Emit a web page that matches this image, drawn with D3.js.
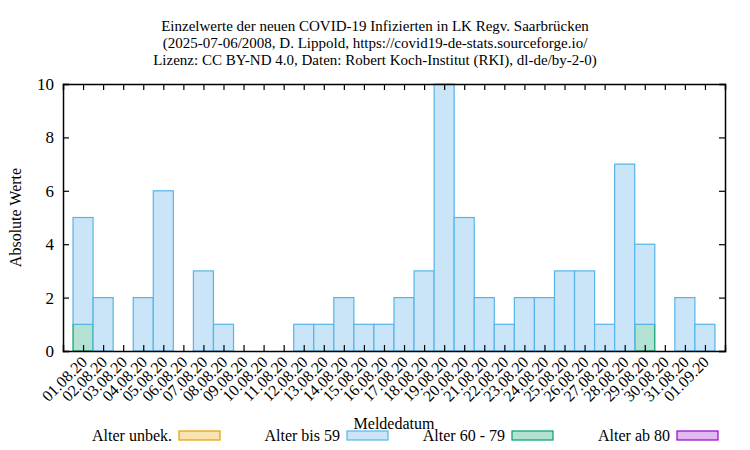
<!DOCTYPE html>
<html>
<head>
<meta charset="utf-8">
<script src="https://cdn.jsdelivr.net/npm/d3@7"></script>
<style>
  body { margin: 0; background: #fff; }
  svg text { font-family: "Liberation Serif", "DejaVu Serif", serif; fill: #000; }
</style>
</head>
<body>
<div class="chart"></div>
<script>
var svgWidth = 750;
var svgHeight = 450;

var margin = { top: 84, right: 25, bottom: 99, left: 63 };
var width = svgWidth - margin.left - margin.right;
var height = svgHeight - margin.top - margin.bottom;

// report dates (x categories)
var dates = ["01.08.20", "02.08.20", "03.08.20", "04.08.20", "05.08.20", "06.08.20", "07.08.20", "08.08.20",
  "09.08.20", "10.08.20", "11.08.20", "12.08.20", "13.08.20", "14.08.20", "15.08.20", "16.08.20",
  "17.08.20", "18.08.20", "19.08.20", "20.08.20", "21.08.20", "22.08.20", "23.08.20", "24.08.20",
  "25.08.20", "26.08.20", "27.08.20", "28.08.20", "29.08.20", "30.08.20", "31.08.20", "01.09.20"];

// counts per age group
var unbek   = [0, 0, 0, 0, 0, 0, 0, 0, 0, 0, 0, 0, 0, 0, 0, 0, 0, 0, 0, 0, 0, 0, 0, 0, 0, 0, 0, 0, 0, 0, 0, 0];
var bis59   = [4, 2, 0, 2, 6, 0, 3, 1, 0, 0, 0, 1, 1, 2, 1, 1, 2, 3, 10, 5, 2, 1, 2, 2, 3, 3, 1, 7, 3, 0, 2, 1];
var age6079 = [1, 0, 0, 0, 0, 0, 0, 0, 0, 0, 0, 0, 0, 0, 0, 0, 0, 0, 0, 0, 0, 0, 0, 0, 0, 0, 0, 0, 1, 0, 0, 0];
var ab80    = [0, 0, 0, 0, 0, 0, 0, 0, 0, 0, 0, 0, 0, 0, 0, 0, 0, 0, 0, 0, 0, 0, 0, 0, 0, 0, 0, 0, 0, 0, 0, 0];

var yTicks = [0, 2, 4, 6, 8, 10];

var titleLines = [
  "Einzelwerte der neuen COVID-19 Infizierten in LK Regv. Saarbrücken",
  "(2025-07-06/2008, D. Lippold, https://covid19-de-stats.sourceforge.io/",
  "Lizenz: CC BY-ND 4.0, Daten: Robert Koch-Institut (RKI), dl-de/by-2-0)"
];

// series in stacking order (bottom first)
var series = [
  { name: "Alter 60 - 79", values: age6079, fill: "#b3e2d2", stroke: "#009e73" },
  { name: "Alter bis 59", values: bis59, fill: "#c9e5f7", stroke: "#56b4e9" },
  { name: "Alter unbek.", values: unbek, fill: "#f9e3b0", stroke: "#e69f00" },
  { name: "Alter ab 80", values: ab80, fill: "#e3b8f2", stroke: "#9400d3" }
];
var legendOrder = ["Alter unbek.", "Alter bis 59", "Alter 60 - 79", "Alter ab 80"];

var svg = d3.select(".chart")
  .append("svg")
  .attr("width", svgWidth)
  .attr("height", svgHeight);

var chart = svg.append("g")
  .attr("transform", "translate(" + margin.left + "," + margin.top + ")");

var xScale = d3.scaleLinear().domain([0, dates.length + 1]).range([0, width]);
var yScale = d3.scaleLinear().domain([0, 10]).range([height, 0]);
var bw = xScale(1) - xScale(0);

// title
svg.append("g").selectAll("text")
  .data(titleLines)
  .enter()
  .append("text")
  .attr("x", 375)
  .attr("y", function(d, i) { return 31 + i * 17; })
  .attr("text-anchor", "middle")
  .style("font-size", "15px")
  .text(function(d) { return d; });

// stacked bars
var base = dates.map(function() { return 0; });
series.forEach(function(s) {
  var rows = dates.map(function(d, i) {
    var r = { i: i, y0: base[i], y1: base[i] + s.values[i] };
    base[i] = r.y1;
    return r;
  }).filter(function(r) { return r.y1 > r.y0; });

  chart.append("g").selectAll("rect")
    .data(rows)
    .enter()
    .append("rect")
    .attr("x", function(r) { return xScale(r.i + 1) - bw / 2; })
    .attr("y", function(r) { return yScale(r.y1); })
    .attr("width", bw)
    .attr("height", function(r) { return yScale(r.y0) - yScale(r.y1); })
    .attr("fill", s.fill)
    .attr("stroke", s.stroke)
    .attr("stroke-width", 1.2);
});

// axes: ticks pointing inward, mirrored on top/right
var xTickVals = dates.map(function(d, i) { return i + 1; });
var tickLen = 6;

var bottomAxis = d3.axisBottom(xScale).tickValues(xTickVals).tickSize(-tickLen).tickFormat("");
var topAxis = d3.axisTop(xScale).tickValues(xTickVals).tickSize(-tickLen).tickFormat("");
var leftAxis = d3.axisLeft(yScale).tickValues(yTicks).tickSize(-tickLen).tickPadding(9);
var rightAxis = d3.axisRight(yScale).tickValues(yTicks).tickSize(-tickLen).tickFormat("");

chart.append("g").attr("transform", "translate(0," + height + ")").call(bottomAxis);
chart.append("g").call(topAxis);
chart.append("g").attr("class", "y-axis").call(leftAxis);
chart.append("g").attr("transform", "translate(" + width + ",0)").call(rightAxis);

chart.selectAll(".domain").attr("stroke", "#000").attr("stroke-width", 1.5);
chart.selectAll(".tick line").attr("stroke", "#000").attr("stroke-width", 1.2);
chart.select(".y-axis").selectAll("text")
  .style("font-size", "17px")
  .style("font-family", "'Liberation Serif', serif");

// rotated date labels
chart.append("g").selectAll("text")
  .data(dates)
  .enter()
  .append("text")
  .attr("transform", function(d, i) {
    return "translate(" + (xScale(i + 1) + 5) + "," + (height + 12) + ") rotate(-45)";
  })
  .attr("text-anchor", "end")
  .style("font-size", "16px")
  .text(function(d) { return d; });

// axis titles
svg.append("text")
  .attr("x", 394)
  .attr("y", 429)
  .attr("text-anchor", "middle")
  .style("font-size", "16px")
  .text("Meldedatum");

svg.append("text")
  .attr("transform", "translate(21," + (margin.top + height / 2) + ") rotate(-90)")
  .attr("text-anchor", "middle")
  .style("font-size", "16px")
  .text("Absolute Werte");

// legend
var legendX = [172, 340, 505, 670];
var legend = svg.append("g").selectAll("g")
  .data(legendOrder)
  .enter()
  .append("g")
  .attr("transform", function(d, i) { return "translate(" + legendX[i] + ",436)"; });

legend.append("text")
  .attr("x", 0)
  .attr("y", 5)
  .attr("text-anchor", "end")
  .style("font-size", "16px")
  .text(function(d) { return d; });

legend.append("rect")
  .attr("x", 7)
  .attr("y", -5)
  .attr("width", 41)
  .attr("height", 9)
  .attr("fill", function(d) { return series.find(function(s) { return s.name === d; }).fill; })
  .attr("stroke", function(d) { return series.find(function(s) { return s.name === d; }).stroke; })
  .attr("stroke-width", 1.2);
</script>
</body>
</html>
